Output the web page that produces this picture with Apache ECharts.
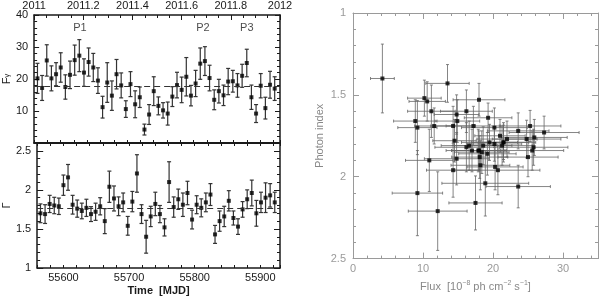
<!DOCTYPE html>
<html><head><meta charset="utf-8">
<script src="https://cdn.jsdelivr.net/npm/echarts@6/dist/echarts.min.js"></script>
<style>html,body{margin:0;padding:0;background:#fff}#c{width:600px;height:297px}</style>
</head><body><div id="c"></div>
<script>
// ---- data ----
const mjd = [55565, 55572, 55579, 55586, 55593, 55600, 55607, 55614, 55621, 55628,
  55635, 55642, 55649, 55656, 55663, 55670, 55677, 55684, 55691, 55698,
  55705, 55712, 55719, 55726, 55733, 55740, 55747, 55754, 55761, 55768,
  55775, 55782, 55789, 55796, 55803, 55810, 55817, 55824, 55831, 55838,
  55845, 55852, 55859, 55866, 55873, 55880, 55887, 55894, 55901, 55908,
  55915, 55922];
const flux = [20.2, 17.2, 25.8, 20.2, 21.5, 23.6, 17.5, 21.3, 25.9, 27.3,
  22.0, 25.3, 23.6, 19.5, 11.2, 18.9, 14.8, 21.5, 18.0, 10.6,
  18.4, 12.1, 14.3, 4.2, 8.9, 16.2, 11.6, 10.2, 9.2, 14.5,
  18.1, 16.6, 20.7, 14.8, 18.6, 24.8, 25.6, 20.3, 13.5, 16.2,
  14.9, 19.2, 19.3, 18.0, 21.0, 25.0, 14.3, 9.2, 17.9, 10.9,
  18.2, 17.0];
const fluxErr = [4.7, 3.9, 4.9, 3.9, 3.6, 4.6, 3.8, 4.3, 4.7, 5.0,
  4.3, 4.4, 4.4, 4.0, 3.4, 6.2, 4.6, 4.6, 3.9, 2.6,
  3.9, 4.2, 3.2, 1.7, 3.1, 4.5, 2.8, 2.4, 3.6, 3.1,
  4.0, 4.0, 6.0, 3.2, 4.1, 4.9, 4.5, 4.0, 3.1, 3.7,
  3.2, 4.1, 3.4, 3.7, 3.6, 4.3, 3.8, 2.8, 3.8, 3.4,
  4.2, 3.7];
const photonIndex = [1.70, 1.69, 1.82, 1.80, 1.79, 2.06, 2.16, 1.81, 1.76, 1.73,
  1.77, 1.69, 1.72, 1.79, 1.60, 2.04, 1.89, 1.79, 1.84, 1.54,
  1.85, 2.21, 1.69, 1.40, 1.66, 1.82, 1.69, 1.52, 2.10, 1.78,
  1.88, 1.81, 1.96, 1.62, 1.81, 1.77, 1.84, 1.94, 1.43, 1.60,
  1.66, 1.86, 1.64, 1.53, 1.75, 1.88, 1.96, 1.70, 1.84, 1.90,
  1.93, 1.84];
const indexErr = [0.12, 0.12, 0.11, 0.105, 0.105, 0.13, 0.165, 0.12, 0.11, 0.10,
  0.11, 0.095, 0.11, 0.11, 0.16, 0.20, 0.16, 0.12, 0.12, 0.12,
  0.13, 0.24, 0.12, 0.21, 0.13, 0.15, 0.11, 0.11, 0.26, 0.13,
  0.13, 0.15, 0.15, 0.12, 0.115, 0.115, 0.12, 0.14, 0.115, 0.13,
  0.13, 0.13, 0.09, 0.10, 0.10, 0.12, 0.165, 0.165, 0.13, 0.19,
  0.15, 0.13];
const yearLabels = ['2011', '2011.2', '2011.4', '2011.6', '2011.8', '2012'];
const peakNames = ['P1', 'P2', 'P3'];
const peakMjd = [55629, 55814, 55880];
const peakLevel = [35.9, 35.9, 35.9];
const meanFlux = 17.6;
const meanIndex = 1.77;

// ---- styling ----
const FONT = 'Liberation Sans, Arial, sans-serif';
const DARK = '#1a1a1a';
const GREY = '#9a9a9a';

const fluxSeries = mjd.map((t, i) => [t, flux[i], flux[i] - fluxErr[i], flux[i] + fluxErr[i]]);
const indexSeries = mjd.map((t, i) => [t, photonIndex[i], photonIndex[i] - indexErr[i], photonIndex[i] + indexErr[i]]);
const scatterSeries = flux.map((f, i) => [f, photonIndex[i], f - fluxErr[i], f + fluxErr[i],
  photonIndex[i] - indexErr[i], photonIndex[i] + indexErr[i]]);
const peakData = peakNames.map((n, i) => ({ value: [peakMjd[i], peakLevel[i]], name: n }));

function vErr(cap, color, width) {
  return function (params, api) {
    const x = api.value(0);
    const a = api.coord([x, api.value(2)]);
    const b = api.coord([x, api.value(3)]);
    const st = { stroke: color, lineWidth: width, fill: null };
    return { type: 'group', children: [
      { type: 'line', shape: { x1: a[0], y1: a[1], x2: b[0], y2: b[1] }, style: st },
      { type: 'line', shape: { x1: a[0] - cap, y1: a[1], x2: a[0] + cap, y2: a[1] }, style: st },
      { type: 'line', shape: { x1: b[0] - cap, y1: b[1], x2: b[0] + cap, y2: b[1] }, style: st }
    ] };
  };
}
function xyErr(cap, color, width) {
  return function (params, api) {
    const x = api.value(0), y = api.value(1);
    const l = api.coord([api.value(2), y]);
    const r = api.coord([api.value(3), y]);
    const t = api.coord([x, api.value(4)]);
    const b = api.coord([x, api.value(5)]);
    const st = { stroke: color, lineWidth: width, fill: null };
    return { type: 'group', children: [
      { type: 'line', shape: { x1: l[0], y1: l[1], x2: r[0], y2: r[1] }, style: st },
      { type: 'line', shape: { x1: l[0], y1: l[1] - cap, x2: l[0], y2: l[1] + cap }, style: st },
      { type: 'line', shape: { x1: r[0], y1: r[1] - cap, x2: r[0], y2: r[1] + cap }, style: st },
      { type: 'line', shape: { x1: t[0], y1: t[1], x2: b[0], y2: b[1] }, style: st },
      { type: 'line', shape: { x1: t[0] - cap, y1: t[1], x2: t[0] + cap, y2: t[1] }, style: st },
      { type: 'line', shape: { x1: b[0] - cap, y1: b[1], x2: b[0] + cap, y2: b[1] }, style: st }
    ] };
  };
}

function ax(o) {
  const color = o.color || DARK;
  return {
    type: 'value', gridIndex: o.grid, position: o.pos, min: o.min, max: o.max,
    interval: o.interval, inverse: !!o.inverse, scale: true,
    axisLine: { show: o.line !== false, onZero: false, lineStyle: { color: color, width: o.lw || 1 } },
    axisTick: { show: true, inside: true, length: o.tick || 5, lineStyle: { color: color, width: 1 } },
    minorTick: o.minor ? { show: true, splitNumber: o.minor, length: 3, lineStyle: { color: color, width: 1 } } : { show: false },
    splitLine: { show: false },
    axisLabel: o.labels ? Object.assign({ show: true, color: o.labelColor || color, fontFamily: FONT, fontSize: 11,
      margin: o.margin || 5 }, o.labels) : { show: false },
    name: o.name || '', nameLocation: 'middle', nameGap: o.nameGap || 20, nameRotate: o.nameRotate,
    nameTextStyle: o.nameStyle || {}
  };
}

const xAxes = [
  // top-left panel
  ax({ grid: 0, pos: 'bottom', min: 55560, max: 55930, interval: 20, tick: 3, lw: 2 }),
  ax({ grid: 0, pos: 'top', min: 0, max: 1, interval: 0.2, minor: 4, lw: 1.5,
    labels: { margin: 4, formatter: (v, i) => yearLabels[i] } }),
  // bottom-left panel
  ax({ grid: 1, pos: 'bottom', min: 55560, max: 55930, interval: 20, tick: 3, lw: 1.5,
    labels: { margin: 4, formatter: v => (Math.abs(v % 100) < 1e-6 ? String(v) : '') },
    name: 'Time  [MJD]', nameGap: 17, nameStyle: { fontFamily: FONT, fontSize: 11, fontWeight: 'bold', color: DARK } }),
  ax({ grid: 1, pos: 'top', min: 55560, max: 55930, interval: 20, tick: 3, lw: 2 }),
  // right panel
  ax({ grid: 2, pos: 'bottom', min: 0, max: 35, interval: 2, tick: 3, color: GREY, line: false }),
  ax({ grid: 2, pos: 'bottom', min: 0, max: 35, interval: 10, tick: 6, color: GREY,
    labels: { margin: 5, showMaxLabel: false, color: GREY },
    name: '{a|Flux  [10}{s|−8}{a| ph cm}{s|−2}{a| s}{s|−1}{a|]}', nameGap: 19,
    nameStyle: { rich: {
      a: { fontFamily: FONT, fontSize: 11, color: '#888', lineHeight: 14 },
      s: { fontFamily: FONT, fontSize: 7, color: '#888', verticalAlign: 'top', lineHeight: 14 } } } }),
  ax({ grid: 2, pos: 'top', min: 0, max: 35, interval: 2, tick: 3, color: GREY, line: false }),
  ax({ grid: 2, pos: 'top', min: 0, max: 35, interval: 10, tick: 6, color: GREY })
];

const yAxes = [
  // top-left
  ax({ grid: 0, pos: 'left', min: 0, max: 40, interval: 10, minor: 5, lw: 1.5,
    labels: { margin: 6, showMinLabel: false },
    name: '{a|F}{s|γ}', nameGap: 19, nameRotate: 90,
    nameStyle: { rich: { a: { fontFamily: FONT, fontSize: 11, color: DARK }, s: { fontFamily: FONT, fontSize: 8, color: DARK } } } }),
  ax({ grid: 0, pos: 'right', min: 0, max: 40, interval: 10, minor: 5, lw: 1.5 }),
  // bottom-left
  ax({ grid: 1, pos: 'left', min: 1, max: 2.6, interval: 0.1, tick: 3, line: false }),
  ax({ grid: 1, pos: 'left', min: 1, max: 2.6, interval: 0.5, tick: 6, lw: 1.5,
    labels: { margin: 6, showMaxLabel: false },
    name: 'Γ', nameGap: 22, nameRotate: 90, nameStyle: { fontFamily: FONT, fontSize: 11, color: DARK } }),
  ax({ grid: 1, pos: 'right', min: 1, max: 2.6, interval: 0.1, tick: 3, line: false }),
  ax({ grid: 1, pos: 'right', min: 1, max: 2.6, interval: 0.5, tick: 6, lw: 1.5 }),
  // right
  ax({ grid: 2, pos: 'left', min: 1, max: 2.5, interval: 0.5, minor: 5, inverse: true, tick: 6, color: GREY,
    labels: { margin: 7, color: GREY },
    name: 'Photon index', nameGap: 28, nameRotate: 90, nameStyle: { fontFamily: FONT, fontSize: 11, color: '#888' } }),
  ax({ grid: 2, pos: 'right', min: 1, max: 2.5, interval: 0.5, minor: 5, inverse: true, tick: 6, color: GREY })
];

const dashed = (v) => ({ silent: true, symbol: ['none', 'none'], label: { show: false },
  lineStyle: { type: [6, 4], color: '#333', width: 1.2 }, emphasis: { disabled: true }, data: [{ yAxis: v }] });

const option = {
  animation: false,
  backgroundColor: '#fff',
  grid: [
    { left: 31, top: 13, width: 249, height: 130 },
    { left: 31, top: 143, width: 249, height: 129 },
    { left: 353, top: 13, width: 245, height: 256 }
  ],
  xAxis: xAxes,
  yAxis: yAxes,
  series: [
    { type: 'custom', xAxisIndex: 0, yAxisIndex: 0, renderItem: vErr(2, '#333', 1.2), data: fluxSeries, z: 3 },
    { type: 'scatter', xAxisIndex: 0, yAxisIndex: 0, symbol: 'rect', symbolSize: 4,
      itemStyle: { color: '#000' }, data: fluxSeries.map(d => [d[0], d[1]]), z: 4, markLine: dashed(meanFlux) },
    { type: 'scatter', xAxisIndex: 0, yAxisIndex: 0, symbolSize: 0, data: peakData, z: 5,
      label: { show: true, position: 'inside', formatter: p => p.name, color: DARK, fontFamily: FONT, fontSize: 11 } },
    { type: 'custom', xAxisIndex: 2, yAxisIndex: 3, renderItem: vErr(2, '#333', 1.2), data: indexSeries, z: 3 },
    { type: 'scatter', xAxisIndex: 2, yAxisIndex: 3, symbol: 'rect', symbolSize: 4,
      itemStyle: { color: '#000' }, data: indexSeries.map(d => [d[0], d[1]]), z: 4, markLine: dashed(meanIndex) },
    { type: 'custom', xAxisIndex: 5, yAxisIndex: 6, renderItem: xyErr(1.5, '#666', 0.8), data: scatterSeries, z: 3 },
    { type: 'scatter', xAxisIndex: 5, yAxisIndex: 6, symbol: 'rect', symbolSize: 4,
      itemStyle: { color: '#000' }, data: scatterSeries.map(d => [d[0], d[1]]), z: 4 }
  ]
};
const chart = echarts.init(document.getElementById('c'), null, { renderer: 'canvas' });
chart.setOption(option);
</script></body></html>
